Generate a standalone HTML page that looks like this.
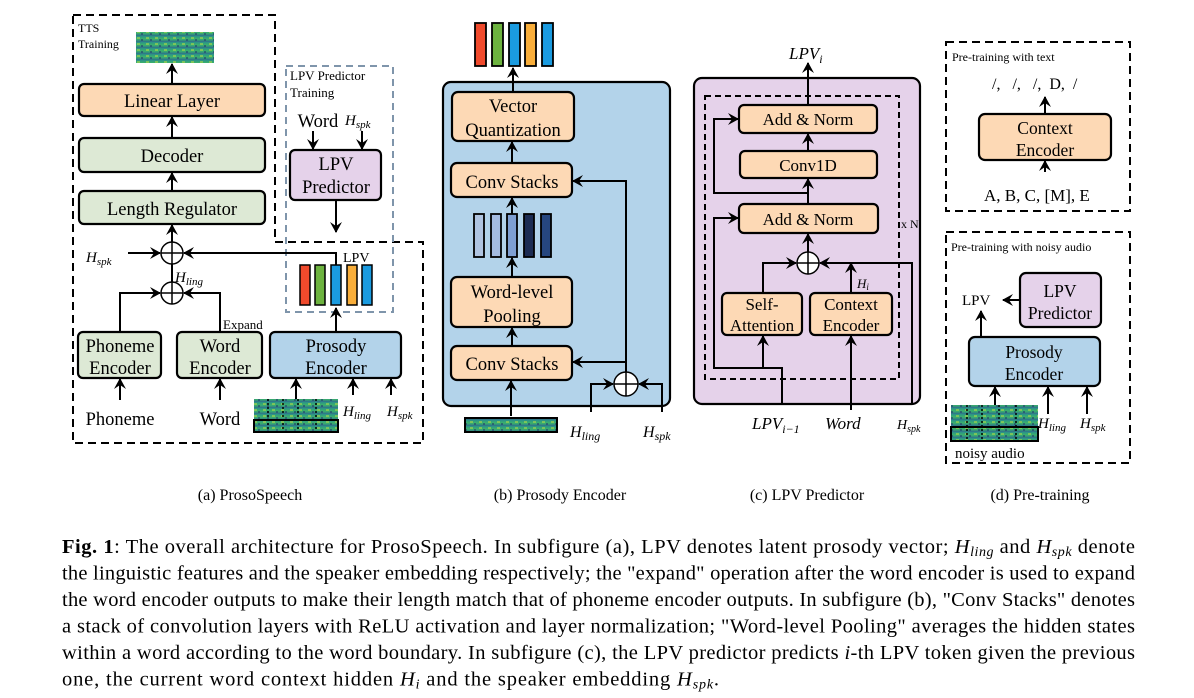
<!DOCTYPE html>
<html><head><meta charset="utf-8"><style>
html,body{margin:0;padding:0;background:#fff;}
svg{display:block;font-family:"Liberation Serif",serif;}
</style></head><body>
<svg width="1194" height="698" viewBox="0 0 1194 698" xmlns="http://www.w3.org/2000/svg">
<defs>
<marker id="a" markerWidth="12" markerHeight="12" refX="10" refY="6" orient="auto" markerUnits="userSpaceOnUse">
<path d="M0,0 L11,6 L0,12 L4,6 z" fill="#000"/></marker>
<linearGradient id="sp" x1="0" y1="0" x2="0" y2="1">
<stop offset="0" stop-color="#2a8f8a"/><stop offset="0.5" stop-color="#3cb36a"/><stop offset="1" stop-color="#2d6d8e"/></linearGradient>
<pattern id="spp" width="9" height="6" patternUnits="userSpaceOnUse">
<rect width="9" height="6" fill="url(#sp)"/><rect x="2" y="1" width="3" height="2" fill="#a8d84a" opacity=".6"/><rect x="6" y="3" width="2" height="2" fill="#21406e" opacity=".6"/></pattern>
</defs>
<g stroke="#000" stroke-width="2" fill="none">
<path d="M73,15 H275 V242 H423 V443 H73 Z" stroke-dasharray="8,5"/>
<rect x="286" y="66" width="107" height="246" stroke="#7f95ab" stroke-dasharray="7,5"/>
</g>
<g font-size="12"><text x="78" y="32">TTS</text><text x="78" y="48">Training</text></g>
<rect x="136" y="32" width="78" height="31" fill="url(#spp)"/>
<g stroke="#000" stroke-width="2.2">
<rect x="79" y="84" width="186" height="32" rx="5" fill="#fdd9b5"/>
<rect x="79" y="138" width="186" height="34" rx="5" fill="#dde9d5"/>
<rect x="79" y="191" width="186" height="33" rx="5" fill="#dde9d5"/>
<rect x="78" y="332" width="83" height="46" rx="5" fill="#dde9d5"/>
<rect x="177" y="332" width="85" height="46" rx="5" fill="#dde9d5"/>
<rect x="270" y="332" width="131" height="46" rx="5" fill="#b3d3ea"/>
<rect x="290" y="150" width="91" height="50" rx="5" fill="#e5d2ea"/>
</g>
<g font-size="18.5" text-anchor="middle">
<text x="172" y="107">Linear Layer</text><text x="172" y="162">Decoder</text><text x="172" y="215">Length Regulator</text>
<text x="120" y="352">Phoneme</text><text x="120" y="374">Encoder</text>
<text x="220" y="352">Word</text><text x="220" y="374">Encoder</text>
<text x="336" y="352">Prosody</text><text x="336" y="374">Encoder</text>
<text x="336" y="170">LPV</text><text x="336" y="193">Predictor</text>
<text x="120" y="425">Phoneme</text><text x="220" y="425">Word</text>
<text x="318" y="127">Word</text>
</g>
<g stroke="#000" stroke-width="2" fill="none" marker-end="url(#a)">
<path d="M172,84 V64"/><path d="M172,138 V117"/><path d="M172,191 V173"/><path d="M172,242 V225"/>
<path d="M128,253 H160"/><path d="M336,265 V253 H184"/>
<path d="M120,332 V293 H160"/><path d="M220,332 V293 H184"/>
<path d="M120,400 V379"/><path d="M220,400 V379"/>
<path d="M296,408 V379"/><path d="M353,395 V379"/><path d="M391,395 V379"/>
<path d="M336,332 V308"/><path d="M313,131 V149"/><path d="M362,131 V149"/><path d="M336,200 V232"/>
</g>
<path d="M172,264 V282" stroke="#000" stroke-width="2"/>
<g stroke="#000" stroke-width="1.5" fill="#fff">
<circle cx="172" cy="253" r="11"/><circle cx="172" cy="293" r="11"/>
<path d="M161,253 H183 M172,242 V264 M161,293 H183 M172,282 V304" fill="none"/>
</g>
<g font-size="15" font-style="italic"><text x="86" y="262">H<tspan font-size="11" dy="3">spk</tspan></text>
<text x="175" y="282">H<tspan font-size="11" dy="3">ling</tspan></text>
<text x="345" y="125">H<tspan font-size="11" dy="3">spk</tspan></text>
<text x="343" y="416">H<tspan font-size="11" dy="3">ling</tspan></text>
<text x="387" y="416">H<tspan font-size="11" dy="3">spk</tspan></text></g>
<text x="223" y="329" font-size="13">Expand</text>
<text x="343" y="262" font-size="14">LPV</text>
<g font-size="13"><text x="290" y="80">LPV Predictor</text><text x="290" y="97">Training</text></g>
<g stroke="#000" stroke-width="1.5"><rect x="300" y="265" width="10" height="40" fill="#f04a2c"/><rect x="315" y="265" width="10" height="40" fill="#6db33f"/><rect x="331" y="265" width="10" height="40" fill="#1a9be0"/><rect x="347" y="265" width="10" height="40" fill="#f9ae3a"/><rect x="362" y="265" width="10" height="40" fill="#1a9be0"/></g>
<rect x="254" y="399" width="84" height="24" fill="url(#spp)"/>
<rect x="254" y="420" width="84" height="12" fill="url(#spp)" stroke="#000" stroke-width="2"/>
<g stroke="#000" stroke-width="1.5" stroke-dasharray="2,2"><path d="M268,399 V432 M283,399 V432 M298,399 V432 M316,399 V432"/></g>

<rect x="443" y="82" width="227" height="324" rx="8" fill="#b3d3ea" stroke="#000" stroke-width="2.2"/>
<g stroke="#000" stroke-width="1.8"><rect x="475" y="23" width="11" height="43" fill="#f04a2c"/><rect x="492" y="23" width="11" height="43" fill="#6db33f"/><rect x="509" y="23" width="11" height="43" fill="#1a9be0"/><rect x="525" y="23" width="11" height="43" fill="#f9ae3a"/><rect x="542" y="23" width="11" height="43" fill="#1a9be0"/>
<rect x="474" y="214" width="10" height="43" fill="#b0c4e0"/><rect x="491" y="214" width="10" height="43" fill="#a4bbe0"/><rect x="507" y="214" width="10" height="43" fill="#7f9fd2"/><rect x="524" y="214" width="10" height="43" fill="#1c2b52"/><rect x="541" y="214" width="10" height="43" fill="#26467f"/></g>
<g stroke="#000" stroke-width="2.2" fill="#fdd9b5">
<rect x="452" y="92" width="122" height="49" rx="6"/><rect x="451" y="163" width="121" height="34" rx="6"/>
<rect x="451" y="277" width="121" height="50" rx="6"/><rect x="451" y="346" width="121" height="34" rx="6"/></g>
<g font-size="18.5" text-anchor="middle"><text x="513" y="112">Vector</text><text x="513" y="136">Quantization</text>
<text x="512" y="188">Conv Stacks</text><text x="512" y="298">Word-level</text><text x="512" y="322">Pooling</text><text x="512" y="370">Conv Stacks</text></g>
<g stroke="#000" stroke-width="2" fill="none" marker-end="url(#a)">
<path d="M513,92 V68"/><path d="M512,163 V142"/><path d="M512,214 V198"/><path d="M512,277 V258"/><path d="M512,346 V328"/><path d="M511,416 V381"/>
<path d="M626,372 V181 H573"/><path d="M626,362 H573"/><path d="M591,412 V384 H613"/><path d="M662,412 V384 H639"/></g>
<g stroke="#000" stroke-width="1.5" fill="#fff"><circle cx="626" cy="384" r="12"/><path d="M614,384 H638 M626,372 V396" fill="none"/></g>
<rect x="465" y="418" width="92" height="14" fill="url(#spp)" stroke="#000" stroke-width="2"/>
<g font-size="16" font-style="italic"><text x="570" y="437">H<tspan font-size="12" dy="3">ling</tspan></text><text x="643" y="437">H<tspan font-size="12" dy="3">spk</tspan></text></g>

<rect x="694" y="78" width="226" height="326" rx="8" fill="#e5d2ea" stroke="#000" stroke-width="2.2"/>
<rect x="705" y="96" width="194" height="283" fill="none" stroke="#000" stroke-width="2" stroke-dasharray="6,4"/>
<g stroke="#000" stroke-width="2.2" fill="#fdd9b5">
<rect x="739" y="105" width="138" height="28" rx="5"/><rect x="740" y="151" width="137" height="27" rx="5"/><rect x="739" y="204" width="139" height="29" rx="5"/>
<rect x="722" y="293" width="80" height="42" rx="5"/><rect x="810" y="293" width="82" height="42" rx="5"/></g>
<g font-size="17" text-anchor="middle"><text x="808" y="125">Add &amp; Norm</text><text x="808" y="171">Conv1D</text><text x="808" y="225">Add &amp; Norm</text>
<text x="762" y="310">Self-</text><text x="762" y="331">Attention</text><text x="851" y="310">Context</text><text x="851" y="331">Encoder</text></g>
<g stroke="#000" stroke-width="2" fill="none" marker-end="url(#a)">
<path d="M808,105 V63"/><path d="M808,151 V134"/><path d="M808,204 V179"/><path d="M808,252 V234"/>
<path d="M808,193 H714 V119 H738"/><path d="M782,404 V368 H714 V218 H738"/>
<path d="M763,368 V336"/><path d="M851,410 V336"/>
<path d="M763,293 V263 H796"/><path d="M912,404 V263 H820"/><path d="M851,293 V263"/></g>
<g stroke="#000" stroke-width="1.5" fill="#fff"><circle cx="808" cy="263" r="11"/><path d="M797,263 H819 M808,252 V274" fill="none"/></g>
<text x="789" y="59" font-size="17" font-style="italic">LPV<tspan font-size="12" dy="4">i</tspan></text>
<text x="857" y="288" font-size="13" font-style="italic">H<tspan font-size="9" dy="2">i</tspan></text>
<text x="901" y="228" font-size="12">x N</text>
<g font-size="17" font-style="italic"><text x="752" y="429">LPV<tspan font-size="12" dy="4">i−1</tspan></text><text x="825" y="429">Word</text></g>
<text x="897" y="429" font-size="14" font-style="italic">H<tspan font-size="10" dy="3">spk</tspan></text>

<g stroke="#000" stroke-width="2" fill="none" stroke-dasharray="8,5"><rect x="946" y="42" width="184" height="169"/><rect x="946" y="232" width="184" height="231"/></g>
<g font-size="12"><text x="952" y="61">Pre-training with text</text><text x="951" y="251">Pre-training with noisy audio</text></g>
<text x="992" y="89" font-size="16" xml:space="preserve">/,   /,   /,  D,  /</text>
<rect x="979" y="114" width="132" height="46" rx="6" fill="#fdd9b5" stroke="#000" stroke-width="2.2"/>
<g font-size="17.5" text-anchor="middle"><text x="1045" y="134">Context</text><text x="1045" y="156">Encoder</text></g>
<text x="984" y="201" font-size="17">A, B, C, [M], E</text>
<rect x="1020" y="273" width="81" height="54" rx="6" fill="#e5d2ea" stroke="#000" stroke-width="2.2"/>
<rect x="969" y="337" width="131" height="49" rx="6" fill="#b3d3ea" stroke="#000" stroke-width="2.2"/>
<g font-size="17.5" text-anchor="middle"><text x="1060" y="297">LPV</text><text x="1060" y="319">Predictor</text><text x="1034" y="358">Prosody</text><text x="1034" y="380">Encoder</text></g>
<text x="962" y="305" font-size="15">LPV</text>
<g stroke="#000" stroke-width="2" fill="none" marker-end="url(#a)">
<path d="M1045,114 V97"/><path d="M1045,172 V161"/><path d="M1020,300 V300 H1003"/><path d="M981,337 V311"/>
<path d="M995,420 V387"/><path d="M1048,414 V387"/><path d="M1087,414 V387"/></g>
<rect x="951" y="405" width="87" height="24" fill="url(#spp)"/>
<rect x="951" y="427" width="87" height="14" fill="url(#spp)" stroke="#000" stroke-width="2"/>
<g stroke="#000" stroke-width="1.5" stroke-dasharray="2,2"><path d="M967,405 V441 M982,405 V441 M999,405 V441 M1016,405 V441"/></g>
<g font-size="15" font-style="italic"><text x="1038" y="428">H<tspan font-size="11" dy="3">ling</tspan></text><text x="1080" y="428">H<tspan font-size="11" dy="3">spk</tspan></text></g>
<text x="955" y="458" font-size="15">noisy audio</text>

<g font-size="16" text-anchor="middle"><text x="250" y="500">(a) ProsoSpeech</text><text x="560" y="500">(b) Prosody Encoder</text><text x="807" y="500">(c) LPV Predictor</text><text x="1040" y="500">(d) Pre-training</text></g>
<g font-size="20.5">
<text x="62" y="553" textLength="1073" lengthAdjust="spacing"><tspan font-weight="bold">Fig. 1</tspan>: The overall architecture for ProsoSpeech. In subfigure (a), LPV denotes latent prosody vector; <tspan font-style="italic">H</tspan><tspan font-style="italic" font-size="14" dy="3">ling</tspan><tspan dy="-3"> and </tspan><tspan font-style="italic">H</tspan><tspan font-style="italic" font-size="14" dy="3">spk</tspan><tspan dy="-3"> denote</tspan></text>
<text x="62" y="579.5" textLength="1073" lengthAdjust="spacing">the linguistic features and the speaker embedding respectively; the "expand" operation after the word encoder is used to expand</text>
<text x="62" y="606" textLength="1073" lengthAdjust="spacing">the word encoder outputs to make their length match that of phoneme encoder outputs. In subfigure (b), "Conv Stacks" denotes</text>
<text x="62" y="632.5" textLength="1073" lengthAdjust="spacing">a stack of convolution layers with ReLU activation and layer normalization; "Word-level Pooling" averages the hidden states</text>
<text x="62" y="659" textLength="1073" lengthAdjust="spacing">within a word according to the word boundary. In subfigure (c), the LPV predictor predicts <tspan font-style="italic">i</tspan>-th LPV token given the previous</text>
<text x="62" y="685.5" textLength="657" lengthAdjust="spacing">one, the current word context hidden <tspan font-style="italic">H</tspan><tspan font-style="italic" font-size="14" dy="3">i</tspan><tspan dy="-3"> and the speaker embedding </tspan><tspan font-style="italic">H</tspan><tspan font-style="italic" font-size="14" dy="3">spk</tspan><tspan dy="-3">.</tspan></text>
</g>
</svg>
</body></html>
